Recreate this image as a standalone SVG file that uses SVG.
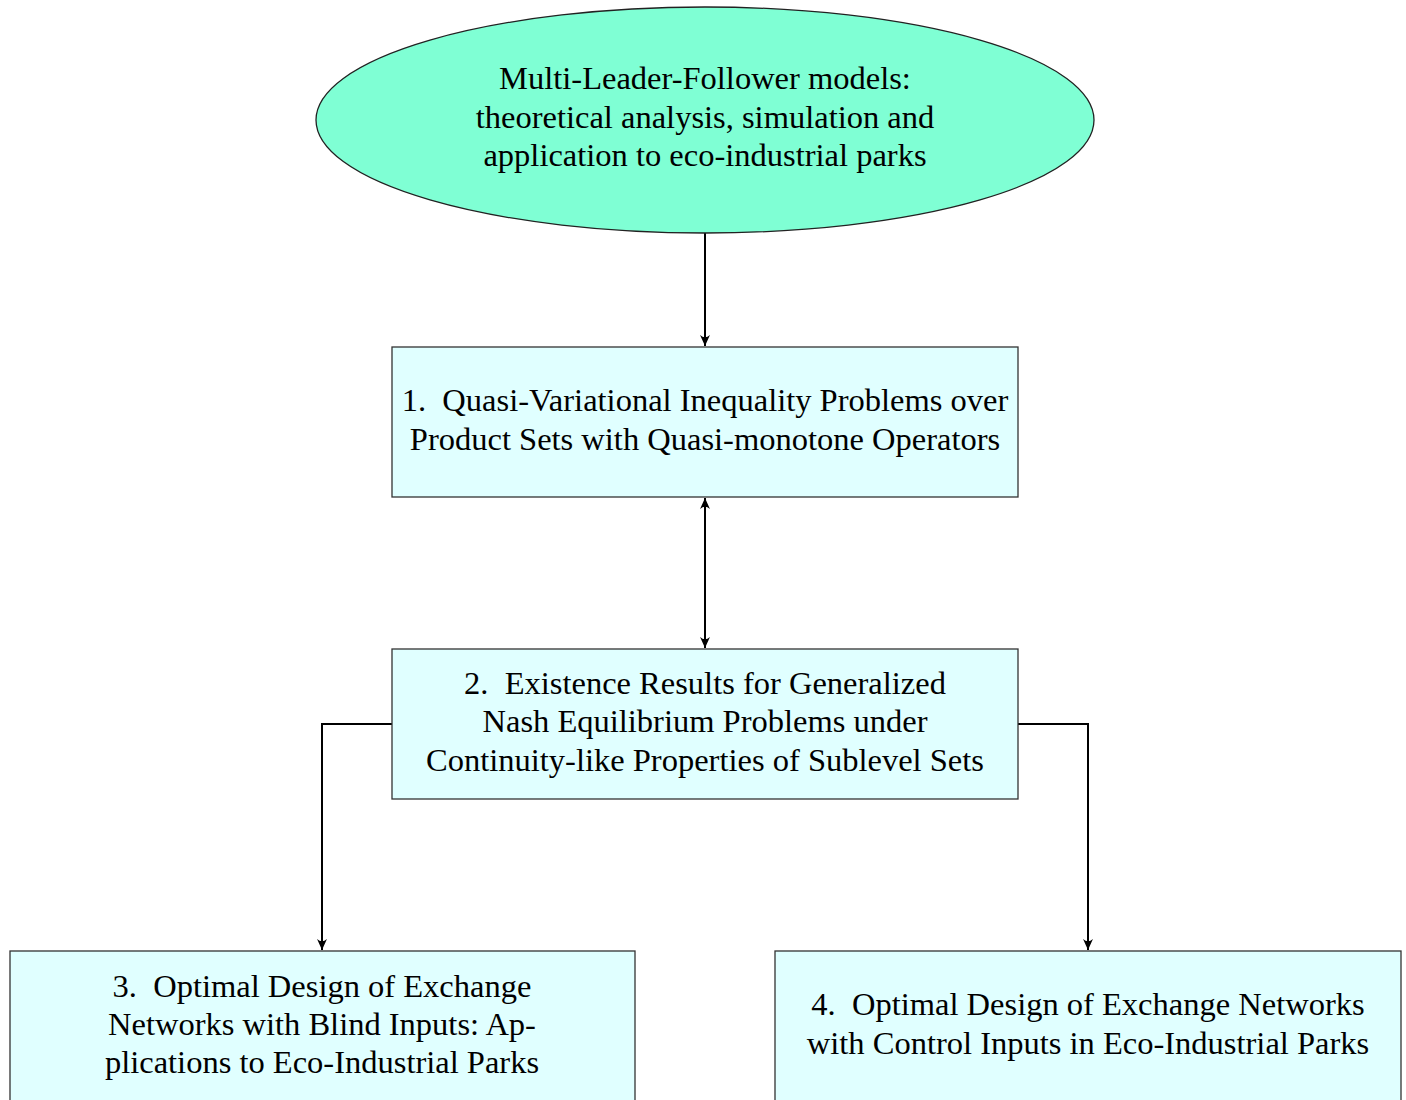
<svg xmlns="http://www.w3.org/2000/svg" width="1406" height="1100" viewBox="0 0 1406 1100">
<defs>
<style>
text{font-family:"Liberation Serif","Times New Roman",serif;font-size:32.5px;fill:#000;text-anchor:middle;white-space:pre}
.box{fill:#E0FFFF;stroke:#333;stroke-width:1.3}
.ell{fill:#7FFFD4;stroke:#222;stroke-width:1.3}
.con{fill:none;stroke:#000;stroke-width:2}
</style>
<marker id="ah" viewBox="0 0 10 10" refX="10" refY="5" markerWidth="12" markerHeight="11" markerUnits="userSpaceOnUse" orient="auto-start-reverse">
<path d="M0,0.5 Q4,5 0,9.5 L10,5 Z" fill="#000"/>
</marker>
</defs>
<rect width="1406" height="1100" fill="#fff"/>
<g id="connectors">
<line class="con" x1="705" y1="233" x2="705" y2="346" marker-end="url(#ah)"/>
<line class="con" x1="705" y1="498" x2="705" y2="648" marker-start="url(#ah)" marker-end="url(#ah)"/>
<polyline class="con" points="392,724 322,724 322,950" marker-end="url(#ah)"/>
<polyline class="con" points="1018,724 1088,724 1088,950" marker-end="url(#ah)"/>
</g>
<g id="root">
<ellipse class="ell" cx="705" cy="120" rx="389" ry="113"/>
<text x="705" y="89">Multi-Leader-Follower models:</text>
<text x="705" y="128">theoretical analysis, simulation and</text>
<text x="705" y="166">application to eco-industrial parks</text>
</g>
<g id="node1">
<rect class="box" x="392" y="347" width="626" height="150"/>
<text x="705" y="411">1.  Quasi-Variational Inequality Problems over</text>
<text x="705" y="450">Product Sets with Quasi-monotone Operators</text>
</g>
<g id="node2">
<rect class="box" x="392" y="649" width="626" height="150"/>
<text x="705" y="694">2.  Existence Results for Generalized</text>
<text x="705" y="732">Nash Equilibrium Problems under</text>
<text x="705" y="771">Continuity-like Properties of Sublevel Sets</text>
</g>
<g id="node3">
<rect class="box" x="10" y="951" width="625" height="160"/>
<text x="322" y="997">3.  Optimal Design of Exchange</text>
<text x="322" y="1035">Networks with Blind Inputs: Ap-</text>
<text x="322" y="1073">plications to Eco-Industrial Parks</text>
</g>
<g id="node4">
<rect class="box" x="775" y="951" width="626" height="160"/>
<text x="1088" y="1015">4.  Optimal Design of Exchange Networks</text>
<text x="1088" y="1054">with Control Inputs in Eco-Industrial Parks</text>
</g>
</svg>
